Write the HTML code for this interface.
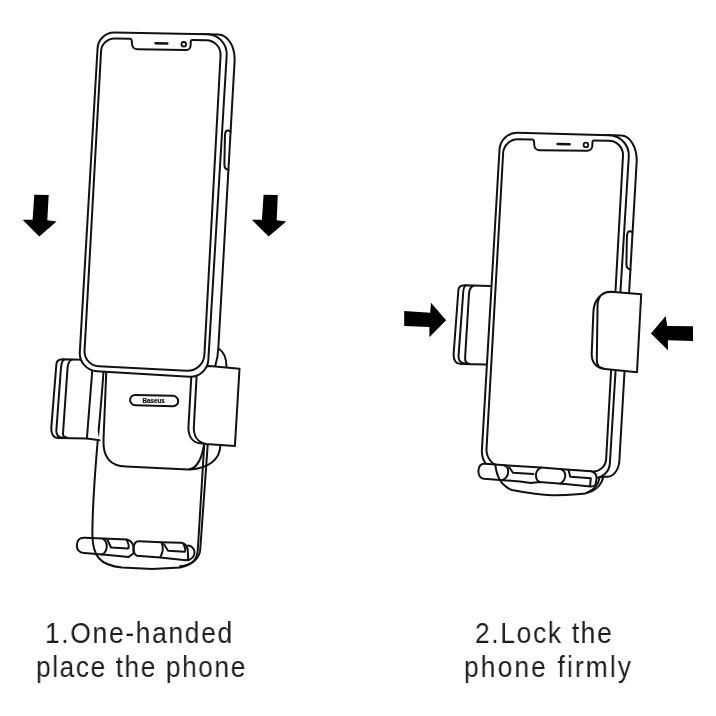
<!DOCTYPE html>
<html><head><meta charset="utf-8"><style>
html,body{margin:0;padding:0;background:#fff;width:716px;height:716px;overflow:hidden}
svg{position:absolute;left:0;top:0;will-change:transform}
.t{position:absolute;font-family:"Liberation Sans",sans-serif;color:#1e1e1e;white-space:nowrap;line-height:34px;transform:scaleX(0.88);transform-origin:0 0;font-size:30px;will-change:transform}
</style></head><body>
<svg width="716" height="716" viewBox="0 0 716 716" stroke="#111" stroke-width="2.0" stroke-linecap="round" stroke-linejoin="round">
<path d="M103.5,371.2 C100.5,420 92.4,480 92.4,534 C92.3,556 100,565.5 122,567.5 L152.3,569.1 L180.3,567.4 C192.6,565 199.5,558 200.2,550 L207.7,445" fill="none"/>
<path d="M204.2,445 L197.8,550 C197,560 192,565 180,566.2" fill="none"/>
<path d="M84.5,537.7 L103,538.6 L126.7,539.4 Q132,540.5 133.4,546 L133.6,553.3 L128.7,556.9 L103,554.6 L84,553 Q76.8,552.3 76.8,545.2 Q77,537.4 84.5,537.7 Z" fill="none"/>
<path d="M102.8,538.6 Q106.8,541 106.8,546.5 Q106.3,552.5 102,554.6" fill="none"/>
<path d="M107.3,539.3 L111,547.5 L128,548.6 Q130,546.5 126.5,539.6" fill="none"/>
<path d="M139,541.2 L161,542.2 L181.4,542.8 Q187,544 187.8,550 L188.1,559.5 L185.9,560.2 L160.2,557.4 L136.7,555.7 Q133.3,554 133.6,548 Q134,541 139,541.2 Z" fill="none"/>
<path d="M161.8,543.2 Q164.5,550 160.2,557.2" fill="none"/>
<path d="M164,544.2 L168,550.7 L184.7,551.8 Q186.3,550 183.6,544.3" fill="none"/>
<path d="M188.1,545.6 Q192.6,546 194.4,551 Q195.3,557.5 188.3,560.2" fill="none"/>
<path d="M190,469.6 C208,468 220,460 220.3,445.8" fill="none"/>
<path d="M106.3,371.2 L103.5,440 Q102.5,466 126,466.5 L187.8,469.5 Q200,469 204,445" fill="#fff"/>
<path d="M82.2,359.7 L62.7,359.3 C58.5,359.5 56.6,361 56.4,364 L51.3,427.7 C51,434 53.5,438 58.4,438.1 L86.9,438.6 L99.5,440.2" fill="#fff"/>
<path d="M64,359.5 C62,360.5 61.2,364 60.8,370 L56.3,431 C56.3,435.5 59,437.5 63,437.8" fill="none"/>
<path d="M72,359.6 C69.5,360.5 68,363.5 67.6,367.4 L63,433.5 C63,436 64.5,437.3 66.8,437.6" fill="none"/>
<path d="M92.3,370.2 L86.9,438.3" fill="none"/>
<path d="M200,34.06L218.04,34.38C228.01,34.56 235.4,46.77 234.56,61.66L218.33,348 C218,356 216.5,362 215.2,366" fill="none"/>
<path d="M218.5,348.5 C224,352 226.5,358 226.5,366.5" fill="none"/>
<path d="M191.3,376.8 L188.4,427.7 C188.4,437 193,443 201.8,443.6" fill="none"/>
<path d="M196.5,374.6 C200,369.5 204,366 209.8,365.9 L239.5,368.8 L234.9,446.1 L206,444 C198,442.5 193.8,436 193.8,427.7 L196.7,374.3 Z" fill="#fff"/>
<path d="M114.5,32.52L206.94,34.18C218.54,34.39 227.37,43.94 226.67,55.52L208.35,359.79C207.75,369.72 199.22,377.29 189.3,376.7L96.72,371.22C86.79,370.64 79.22,362.11 79.8,352.19L97.57,48.2C98.08,39.38 105.66,32.36 114.5,32.52Z" fill="#fff"/>
<path d="M114.78,38.43L130.1,38.73C130.93,38.75 131.65,39.43 131.71,40.26L132.02,44.21C132.23,46.97 134.64,49.24 137.4,49.29L185.5,50.11C188.26,50.16 190.57,47.96 190.65,45.2L190.76,41.43C190.78,40.6 191.47,39.95 192.3,39.96L206.36,40.24C214.65,40.41 221,47.24 220.55,55.52L204.4,354.71C203.89,364.09 195.88,371.3 186.5,370.82L98.72,366.31C90.44,365.88 84.11,358.83 84.56,350.56L101.06,51.15C101.46,43.98 107.6,38.29 114.78,38.43Z" fill="none"/>
<path d="M155.5,43.3 L167.3,43.5" fill="none" stroke-width="2.5"/>
<circle cx="183.8" cy="44.3" r="2.3" fill="none" stroke-width="1.8"/>
<path d="M230.5,131.8 C229.5,130.2 227,130 225.9,131.4 C225.1,132.6 224.9,134.5 224.9,137 L224.4,164 C224.3,167.6 225.2,169.6 228.5,169.8" fill="none"/>
<path d="M135.3,394.93L173,395.87C175.87,395.94 178.2,398.31 178.2,401.15L178.2,401.15C178.2,403.99 175.87,406.24 173,406.17L135.3,405.23C132.43,405.16 130.1,402.79 130.1,399.95L130.1,399.95C130.1,397.11 132.43,394.86 135.3,394.93Z" fill="none"/>
<text x="153.7" y="403.2" font-size="7.4" font-weight="bold" text-anchor="middle" fill="#111" stroke="#111" stroke-width="0.25" font-family="Liberation Sans, sans-serif" transform="translate(153.7 0) scale(0.85 1) translate(-153.7 0)">Baseus</text>
<path d="M34.3,194.7 L48.7,195.1 L47.3,220.2 L56.5,221.5 L39.3,236.6 L22.6,219.8 L32.6,219.8 Z" fill="#000" stroke="none"/>
<path d="M263.6,194.7 L277.8,195.1 L276.7,220.2 L286.2,221.5 L268.6,236.6 L251.8,219.8 L261.9,219.8 Z" fill="#000" stroke="none"/>
<path d="M604,135.07L621.08,135.52C630.51,135.77 637.46,148.04 636.6,162.93L619.35,460.73C618.84,469.55 613.63,476.7 607.71,476.7L597,476.7" fill="none"/>
<path d="M489.9,286 L464.8,285.3 C460,285.5 458.5,287 458.4,290 L453.6,354.3 C453.5,361 456,364 461,364.1 L485.7,364.5" fill="#fff"/>
<path d="M466,285.4 C464,286 463.2,289 463,295.5 L458.5,356.4 C458.3,361 461,363 465.5,363.6" fill="none"/>
<path d="M473.5,285.7 C471,286.5 469.5,289 469,293.4 L465.1,357.8 C465,361.5 466.5,363.5 469,363.8" fill="none"/>
<path d="M517.5,132.79L609.07,135.21C620.66,135.51 629.48,145.14 628.77,156.72L609.85,463.6C609.35,471.87 602.23,478.23 593.95,477.8L502.61,473.11C490.48,472.48 481.21,462.14 481.92,450.01L499.52,149.32C500.06,139.94 508.12,132.54 517.5,132.79Z" fill="#fff"/>
<path d="M517.93,139.24L532.4,139.47C533.23,139.48 533.94,140.16 534,140.99L534.27,145.21C534.45,147.97 536.84,150.22 539.6,150.25L587.2,150.75C589.96,150.78 592.26,148.56 592.34,145.8L592.46,141.91C592.48,141.08 593.17,140.42 594,140.44L608.84,140.67C617.12,140.8 623.46,147.61 623,155.88L606.15,459.13C605.75,466.3 599.61,471.84 592.44,471.51L503.49,467.41C493.55,466.95 485.96,458.54 486.52,448.61L503.14,153C503.58,145.28 510.2,139.12 517.93,139.24Z" fill="none"/>
<path d="M557.6,144 L569.6,144.2" fill="none" stroke-width="2.5"/>
<circle cx="585.9" cy="144.9" r="2.3" fill="none" stroke-width="1.8"/>
<path d="M632.4,232.4 C631.5,230.9 629,230.8 627.9,232.2 C627.1,233.4 626.9,235.2 626.9,237.5 L626.4,264 C626.3,267.5 627.2,269.2 630.5,269.4" fill="none"/>
<path d="M485,463.8 L508,465.5 L541,467.6 L562.7,469.3 L591,471.3 Q596.4,472.5 596.6,478 L595.6,484.5 Q594,486.6 590.5,486.4 L565,484 L539.3,482 L530.9,483.1 L520,481.4 L484,478.8 Q478.4,478 478.4,471 Q478.6,463.5 485,463.8 Z" fill="#fff"/>
<path d="M504,465.2 Q508.2,467 508.2,471.5 Q508,477.5 503,479.7" fill="none"/>
<path d="M509.2,467.2 L513,472.8 L533.4,473.9" fill="none"/>
<path d="M541,467.6 Q536,470 535.9,475 Q536,481 540,482" fill="none"/>
<path d="M561,469.2 Q565.3,471.5 565.3,475.5 Q565,481 560.2,483.6" fill="none"/>
<path d="M568.6,470.5 L570.3,476.8 L590.8,478.2 L590.1,485.8" fill="none"/>
<path d="M495.3,464.4 C496.5,476 501,486 512,490 C525,492.5 540,495 552,495.2 C565,495 576,495 585,493.5 C597,490.5 601.5,485 603.3,477" fill="none"/>
<path d="M599.6,477.6 C598.5,484 595,489.5 587,492.6" fill="none"/>
<path d="M608,292.5 C598,295 593.8,302 593.4,312 L591.7,353.8 C591.5,362 596,367.5 603,368.5" fill="none"/>
<path d="M597.6,303.5 Q599,292 611,291.8 L641.2,294.3 L637,372.2 L605.1,368.9 Q596.5,368 596.8,360 Z" fill="#fff"/>
<path d="M404.2,311.1 L430.2,312.7 L431,302.7 L446.1,320.2 L429.4,337.2 L429.4,326.9 L404.2,326 Z" fill="#000" stroke="none"/>
<path d="M650.9,333.5 L665.7,315.9 L667.2,325.9 L693,326.2 L693,340.9 L667.9,340.3 L668,350.2 Z" fill="#000" stroke="none"/>
</svg>
<div class="t" style="left:45px;top:616.3px;letter-spacing:1.9px">1.One-handed</div>
<div class="t" style="left:36px;top:650px;letter-spacing:1.74px">place the phone</div>
<div class="t" style="left:475px;top:616px;letter-spacing:1.88px">2.Lock the</div>
<div class="t" style="left:464px;top:649.5px;letter-spacing:2.4px">phone firmly</div>
</body></html>
